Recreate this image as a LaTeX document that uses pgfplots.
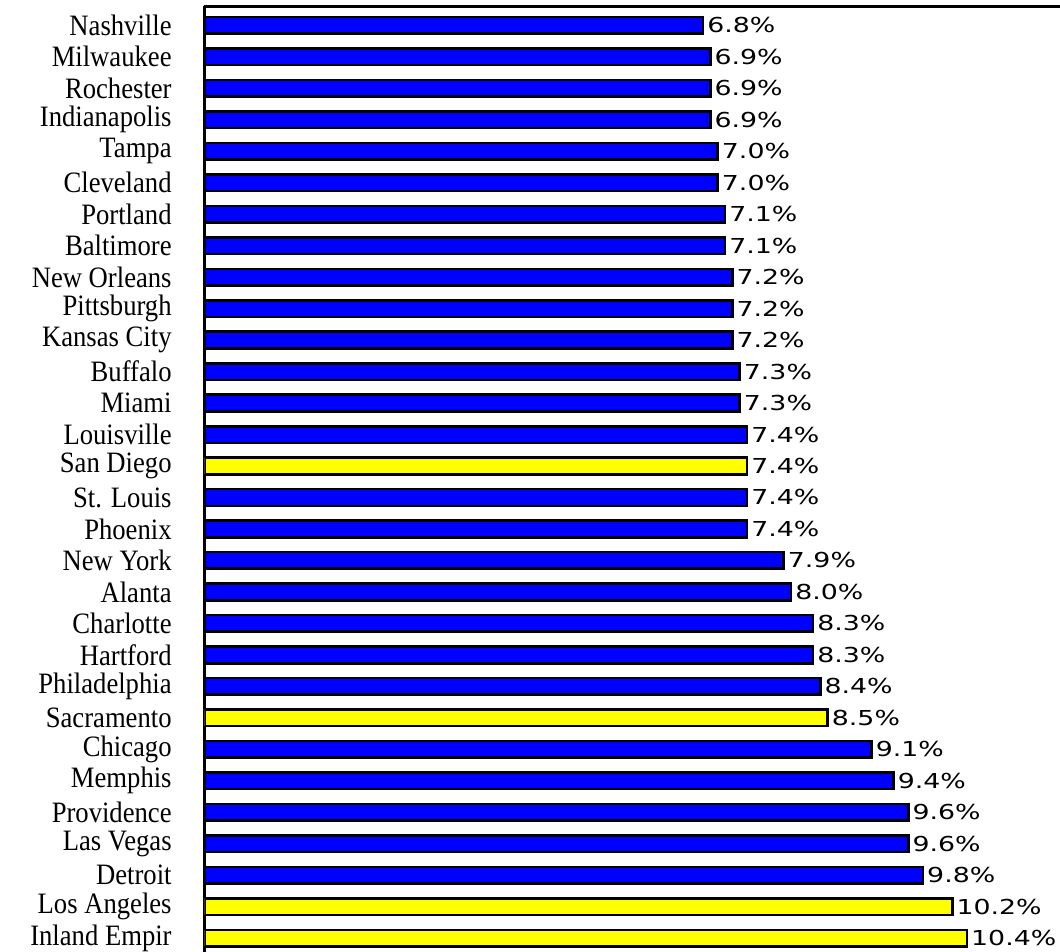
\documentclass[border=0pt]{standalone}
\usepackage{pgfplots}
\pgfplotsset{compat=1.18}
\usepackage{fontspec}
\newfontfamily\catfont{Liberation Serif}
\newfontfamily\valfont{DejaVu Sans}
\definecolor{barblue}{RGB}{0,0,255}
\definecolor{baryellow}{RGB}{255,255,0}
\newcommand{\cl}[1]{\scalebox{0.9}[1]{\catfont\fontsize{14.8}{16}\selectfont #1}}
\begin{document}
\begin{tikzpicture}
\begin{axis}[
  name=ax,
  xbar, bar shift=0pt, bar width=0.53,
  scale only axis, width=427.75pt, height=472.75pt,
  xmin=0, xmax=11.67, ymin=-0.44, ymax=29.60,
  axis x line*=top, axis y line*=left,
  axis line style={line width=1.5pt, black},
  xtick=\empty,
  ytick={0,...,29},
  yticklabels={\cl{Inland Empir},\cl{Los Angeles},\cl{Detroit},\cl{Las Vegas},\cl{Providence},\cl{Memphis},\cl{Chicago},\cl{Sacramento},\cl{Philadelphia},\cl{Hartford},\cl{Charlotte},\cl{Alanta},\cl{New York},\cl{Phoenix},\cl{St. Louis},\cl{San Diego},\cl{Louisville},\cl{Miami},\cl{Buffalo},\cl{Kansas City},\cl{Pittsburgh},\cl{New Orleans},\cl{Baltimore},\cl{Portland},\cl{Cleveland},\cl{Tampa},\cl{Indianapolis},\cl{Rochester},\cl{Milwaukee},\cl{Nashville}},
  major tick length=0pt,
  yticklabel style={anchor=east, inner sep=0pt, xshift=-16.25pt},
  /pgf/number format/assume math mode=true,
  nodes near coords={\scalebox{1.3}[1]{\valfont\fontsize{10.3}{12}\selectfont\pgfmathprintnumber[fixed,fixed zerofill,precision=1,assume math mode=true]{\pgfplotspointmeta}\%}},
  nodes near coords style={anchor=west, inner sep=1.5pt, black},
  every axis plot/.append style={draw=black, line width=1.3pt},
]
\addplot[fill=barblue] coordinates {
(9.8,2) (9.6,3) (9.6,4) (9.4,5) (9.1,6) (8.4,8) (8.3,9) (8.3,10) (8.0,11) (7.9,12)
(7.4,13) (7.4,14) (7.4,16) (7.3,17) (7.3,18) (7.2,19) (7.2,20) (7.2,21) (7.1,22) (7.1,23)
(7.0,24) (7.0,25) (6.9,26) (6.9,27) (6.9,28) (6.8,29)};
\addplot[fill=baryellow] coordinates {
(10.4,0) (10.2,1) (8.5,7) (7.4,15)};
\end{axis}
\pgfresetboundingbox
\path[use as bounding box] (ax.north west) ++(-102.25pt,3.25pt) rectangle (ax.south east);
\end{tikzpicture}
\end{document}
